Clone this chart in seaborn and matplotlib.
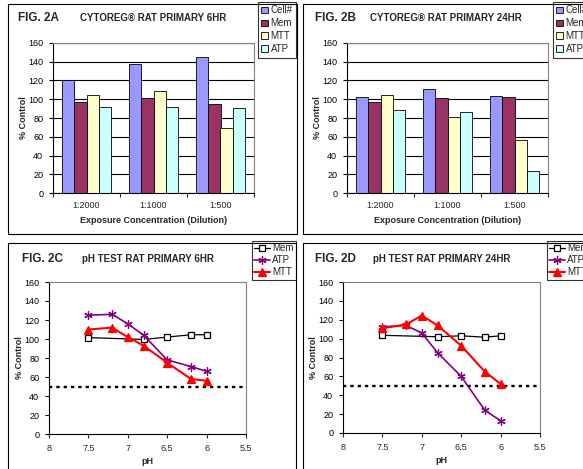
import numpy as np
import pandas as pd
import matplotlib
matplotlib.use('Agg')
import matplotlib.pyplot as plt
import seaborn as sns
from matplotlib.patches import Rectangle
from matplotlib.ticker import FixedLocator, MultipleLocator, FormatStrFormatter

# 柱状图数据 (Fig. 2A / 2B)
dilutions = ['1:2000', '1:1000', '1:500']
bar_assays = ['Cell#', 'Mem', 'MTT', 'ATP']
bar_colors = ['#9999FF', '#993366', '#FFFFCC', '#CCFFFF']

cell_6hr = [120, 138, 145]
mem_6hr = [97, 101, 95]
mtt_6hr = [105, 109, 69]
atp_6hr = [92, 92, 91]

cell_24hr = [102, 111, 103]
mem_24hr = [97, 101, 102]
mtt_24hr = [105, 81, 56]
atp_24hr = [89, 86, 23]

# 折线图数据 (Fig. 2C / 2D)
ph_mem = [7.5, 6.8, 6.5, 6.2, 6.0]
ph_all = [7.5, 7.2, 7.0, 6.8, 6.5, 6.2, 6.0]

mem_ph_6hr = [101.5, 99.5, 102, 104.5, 104.5]
atp_ph_6hr = [125, 126, 116, 104, 78, 71, 66]
mtt_ph_6hr = [110, 112, 102, 93, 75, 58, 56]

mem_ph_24hr = [103.5, 102, 103, 101.5, 103]
atp_ph_24hr = [112.5, 114, 106, 85, 60, 24, 13]
mtt_ph_24hr = [111, 115, 124.5, 114, 92.5, 65, 52]

line_names = ['Mem', 'ATP', 'MTT']
line_colors = ['black', '#800080', '#FF0000']

W, H = 583, 469

sns.set_style('white')
plt.rcParams['font.family'] = ['Liberation Sans', 'DejaVu Sans']
plt.rcParams['axes.unicode_minus'] = False


def px_rect(x0, y0, x1, y1):
    """像素坐标(左上原点) -> figure 比例坐标"""
    return [x0 / W, 1 - y1 / H, (x1 - x0) / W, (y1 - y0) / H]


def style_axes(ax):
    ax.set_facecolor('white')
    ax.spines['left'].set_color('black')
    ax.spines['bottom'].set_color('black')
    ax.spines['top'].set_color('#808080')
    ax.spines['right'].set_color('#808080')
    for s in ax.spines.values():
        s.set_visible(True)
        s.set_linewidth(0.8)
    ax.set_ylim(0, 160)
    ax.yaxis.set_major_locator(MultipleLocator(20))
    ax.tick_params(axis='y', direction='out', length=3, width=0.8, pad=4,
                   labelsize=6.5, left=True, colors='black')


def draw_bar_panel(fig, rect, values, fig_label, title, label_x, title_x, legend_x):
    ax = fig.add_axes(px_rect(*rect))
    df = pd.DataFrame({
        'Dilution': dilutions * len(bar_assays),
        'Assay': np.repeat(bar_assays, len(dilutions)),
        'Value': np.concatenate(values),
    })
    sns.barplot(data=df, x='Dilution', y='Value', hue='Assay', order=dilutions,
                hue_order=bar_assays, palette=bar_colors, saturation=1, width=0.72,
                edgecolor='black', linewidth=0.6, errorbar=None, ax=ax)
    style_axes(ax)
    ax.set_xlim(-0.5, 2.5)
    ax.set_axisbelow(True)
    ax.yaxis.grid(True, color='black', linewidth=0.8)
    ax.xaxis.set_minor_locator(FixedLocator([-0.5, 0.5, 1.5, 2.5]))
    ax.tick_params(axis='x', which='major', length=0, labelsize=6.5, pad=6)
    ax.tick_params(axis='x', which='minor', length=3, width=0.8, bottom=True, direction='out')

    ax.set_xlabel('Exposure Concentration (Dilution)', fontsize=6.5, fontweight='bold')
    ax.xaxis.set_label_coords(0.5, -0.15)
    ax.set_ylabel('% Control', fontsize=6.5, fontweight='bold')
    ax.yaxis.set_label_coords(-0.125, 0.5)

    handles, labels = ax.get_legend_handles_labels()
    ax.get_legend().remove()
    leg = ax.legend(handles, labels, loc='upper left', bbox_to_anchor=(legend_x / W, 1 - 2 / H),
                    bbox_transform=fig.transFigure, fontsize=7, frameon=True, fancybox=False,
                    edgecolor='black', handlelength=0.7, handleheight=0.7, handletextpad=0.25,
                    labelspacing=0.3, borderpad=0.35, borderaxespad=0)
    leg.get_frame().set_linewidth(0.8)

    y_txt = 1 - 18 / H
    fig.text(label_x / W, y_txt, fig_label, fontsize=8.5, fontweight='bold', ha='left', va='center')
    fig.text(title_x / W, y_txt, title, fontsize=7, fontweight='bold', ha='left', va='center')
    return ax


def draw_line_panel(fig, rect, series, fig_label, title, label_x, title_x, legend_x):
    ax = fig.add_axes(px_rect(*rect))
    style_axes(ax)
    markers = ['s', (6, 2, 0), '^']
    sizes = [4.5, 6, 5.5]
    widths = [0.9, 1.2, 1.5]
    for (xs, ys), name, color, mk, ms, lw in zip(series, line_names, line_colors, markers, sizes, widths):
        face = 'white' if name == 'Mem' else color
        sns.lineplot(x=xs, y=ys, color=color, marker=mk, markersize=ms, linewidth=lw,
                     markerfacecolor=face, markeredgecolor=color, markeredgewidth=0.9,
                     label=name, sort=False, ax=ax)
    ax.axhline(50, color='black', linewidth=1.7, linestyle=(0, (1.4, 1.7)), zorder=1, clip_on=False)
    ax.set_xlim(8, 5.5)
    ax.xaxis.set_major_locator(MultipleLocator(0.5))
    ax.xaxis.set_major_formatter(FormatStrFormatter('%g'))
    ax.tick_params(axis='x', direction='out', length=3, width=0.8, pad=4,
                   labelsize=6.5, bottom=True)

    ax.set_xlabel('pH', fontsize=6.5, fontweight='bold')
    ax.xaxis.set_label_coords(0.5, -0.15)
    ax.set_ylabel('% Control', fontsize=6.5, fontweight='bold')
    ax.yaxis.set_label_coords(-0.125, 0.5)

    handles, labels = ax.get_legend_handles_labels()
    leg = ax.legend(handles, labels, loc='upper left', bbox_to_anchor=(legend_x / W, 1 - 241 / H),
                    bbox_transform=fig.transFigure, fontsize=7, frameon=True, fancybox=False,
                    edgecolor='black', handlelength=1.6, handletextpad=0.2,
                    labelspacing=0.2, borderpad=0.25, borderaxespad=0)
    leg.get_frame().set_linewidth(0.8)

    y_txt = 1 - 259 / H
    fig.text(label_x / W, y_txt, fig_label, fontsize=8.5, fontweight='bold', ha='left', va='center')
    fig.text(title_x / W, y_txt, title, fontsize=7, fontweight='bold', ha='left', va='center')
    return ax


fig = plt.figure(figsize=(W / 100, H / 100), dpi=100)
fig.patch.set_facecolor('white')

# 各面板外框
for x0, y0, x1, y1 in [(8, 4, 297, 234), (303, 4, 600, 234), (8, 243, 296, 480), (303, 243, 600, 480)]:
    fig.patches.append(Rectangle((x0 / W, 1 - y1 / H), (x1 - x0) / W, (y1 - y0) / H,
                                 transform=fig.transFigure, fill=False, edgecolor='black',
                                 linewidth=0.8, zorder=0))

draw_bar_panel(fig, (53, 43, 254, 193), [cell_6hr, mem_6hr, mtt_6hr, atp_6hr],
               'FIG. 2A', 'CYTOREG® RAT PRIMARY 6HR', 18, 80, 258)
draw_bar_panel(fig, (347, 43, 548, 193), [cell_24hr, mem_24hr, mtt_24hr, atp_24hr],
               'FIG. 2B', 'CYTOREG® RAT PRIMARY 24HR', 315, 370, 553)
draw_line_panel(fig, (49, 282, 246, 434),
                [(ph_mem, mem_ph_6hr), (ph_all, atp_ph_6hr), (ph_all, mtt_ph_6hr)],
                'FIG. 2C', 'pH TEST RAT PRIMARY 6HR', 22, 82, 252)
draw_line_panel(fig, (343, 282, 540, 433),
                [(ph_mem, mem_ph_24hr), (ph_all, atp_ph_24hr), (ph_all, mtt_ph_24hr)],
                'FIG. 2D', 'pH TEST RAT PRIMARY 24HR', 315, 373, 547)

fig.savefig('out.png', dpi=100)
